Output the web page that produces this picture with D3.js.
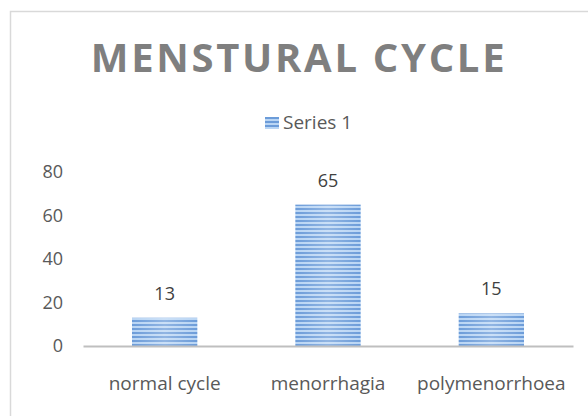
<!DOCTYPE html>
<html>
<head>
<meta charset="utf-8">
<script src="https://d3js.org/d3.v7.min.js"></script>
<style>
  body { margin: 0; background: #fff; }
  svg { display: block; font-family: "Open Sans", "Noto Sans", sans-serif; }
</style>
</head>
<body>
<svg class="chart"></svg>
<script>
var categories = ["normal cycle", "menorrhagia", "polymenorrhoea"];
var values = [13, 65, 15];
var yTicks = [0, 20, 40, 60, 80];
var seriesName = "Series 1";
var title = "MENSTURAL CYCLE";

var width = 588, height = 416;
var svg = d3.select(".chart").attr("width", width).attr("height", height);

var defs = svg.append("defs");
var pat = defs.append("pattern")
    .attr("id", "stripes")
    .attr("patternUnits", "userSpaceOnUse")
    .attr("width", 8).attr("height", 4);
pat.append("rect").attr("width", 8).attr("height", 4).attr("fill", "#b9d5f4");
pat.append("rect").attr("width", 8).attr("height", 2).attr("fill", "#6c9cd9");

var grad = defs.append("linearGradient").attr("id", "shine")
    .attr("x1", 0).attr("x2", 1).attr("y1", 0).attr("y2", 0);
grad.append("stop").attr("offset", "0%").attr("stop-color", "#fff").attr("stop-opacity", 0);
grad.append("stop").attr("offset", "50%").attr("stop-color", "#fff").attr("stop-opacity", 0.25);
grad.append("stop").attr("offset", "100%").attr("stop-color", "#fff").attr("stop-opacity", 0);

// chart frame
svg.append("rect")
    .attr("x", 10.5).attr("y", 11.5)
    .attr("width", 600).attr("height", 420)
    .attr("fill", "none").attr("stroke", "#d9d9d9").attr("stroke-width", 1.5);

svg.append("text")
    .attr("x", 299).attr("y", 72)
    .attr("text-anchor", "middle")
    .attr("fill", "#7f7f7f")
    .attr("font-size", "40px")
    .attr("font-weight", "bold")
    .attr("letter-spacing", "2.7px")
    .text(title);

// legend
var lg = svg.append("g").attr("transform", "translate(265,117)");
lg.append("rect").attr("width", 14).attr("height", 12).attr("fill", "url(#stripes)");
lg.append("text").attr("x", 18).attr("y", 12)
    .attr("fill", "#595959").attr("font-size", "19px").text(seriesName);

var x = d3.scaleBand().domain(categories).range([83, 573]).paddingInner(0.6).paddingOuter(0.3);
var y = d3.scaleLinear().domain([0, 80]).range([346, 172]);

var yAxis = svg.append("g")
    .attr("transform", "translate(63,0)")
    .call(d3.axisLeft(y).tickValues(yTicks).tickSize(0).tickPadding(0));
yAxis.select(".domain").remove();
yAxis.selectAll("text").attr("fill", "#595959").attr("font-size", "18px")
    .attr("font-family", "Open Sans, Noto Sans, sans-serif");

var bars = svg.selectAll(".bar").data(values).enter();
bars.append("rect")
    .attr("class", "bar")
    .attr("x", function(d, i){ return x(categories[i]); })
    .attr("y", function(d){ return y(d); })
    .attr("width", x.bandwidth())
    .attr("height", function(d){ return y(0) - y(d); })
    .attr("fill", "url(#stripes)");
bars.append("rect")
    .attr("x", function(d, i){ return x(categories[i]); })
    .attr("y", function(d){ return y(d); })
    .attr("width", x.bandwidth())
    .attr("height", function(d){ return y(0) - y(d); })
    .attr("fill", "url(#shine)");
bars.append("text")
    .attr("x", function(d, i){ return x(categories[i]) + x.bandwidth() / 2; })
    .attr("y", function(d){ return y(d) - 18; })
    .attr("text-anchor", "middle")
    .attr("fill", "#404040").attr("font-size", "18px")
    .text(function(d){ return d; });

var xAxis = svg.append("g")
    .attr("transform", "translate(0,346)")
    .call(d3.axisBottom(x).tickSize(0));
xAxis.select(".domain").attr("stroke", "#bfbfbf").attr("stroke-width", 2);
xAxis.selectAll("text").attr("fill", "#595959").attr("font-size", "19px")
    .attr("y", 44).attr("dy", null)
    .attr("font-family", "Open Sans, Noto Sans, sans-serif");
</script>
</body>
</html>
